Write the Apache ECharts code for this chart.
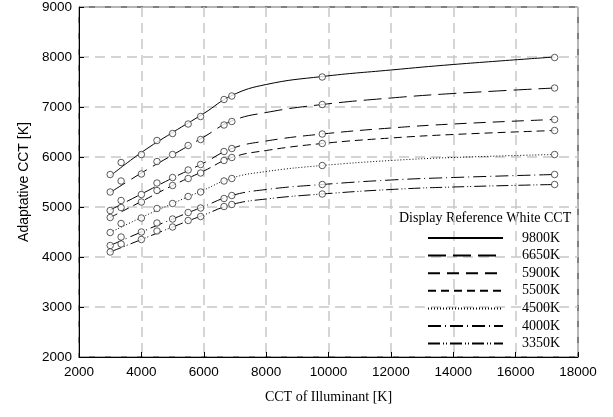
<!DOCTYPE html>
<html>
<head>
<meta charset="utf-8">
<script src="https://cdn.jsdelivr.net/npm/echarts@6/dist/echarts.min.js"></script>
<style>
  html, body { margin: 0; padding: 0; background: #fff; }
  #chart { width: 613px; height: 417px; }
</style>
</head>
<body>
<div id="chart"></div>
<script>
// illuminant CCT of the measured points
const illuminantCCT = [3000, 3350, 4000, 4500, 5000, 5500, 5900, 6650, 6900, 9800, 17250];

// display reference white names
const displayWhites = ['9800K', '6650K', '5900K', '5500K', '4500K', '4000K', '3350K'];

// measured adaptive CCT (markers), one array per display white
const adaptive9800 = [5650, 5890, 6050, 6330, 6470, 6660, 6810, 7150, 7220, 7600, 7990];
const adaptive6650 = [5300, 5520, 5660, 5910, 6050, 6230, 6350, 6640, 6710, 7050, 7380];
const adaptive5900 = [4930, 5130, 5250, 5480, 5590, 5740, 5850, 6110, 6170, 6460, 6750];
const adaptive5500 = [4790, 4990, 5100, 5330, 5430, 5570, 5680, 5930, 5990, 6270, 6530];
const adaptive4500 = [4490, 4670, 4780, 4970, 5070, 5210, 5300, 5520, 5570, 5830, 6050];
const adaptive4000 = [4230, 4400, 4500, 4680, 4760, 4890, 4980, 5170, 5230, 5450, 5650];
const adaptive3350 = [4100, 4260, 4350, 4520, 4600, 4730, 4810, 5010, 5050, 5260, 5450];

// fitted curves at these illuminant CCTs
const fitCCT = [3000, 4000, 5000, 6000, 6900, 8000, 9800, 12000, 14000, 17250];
const fit9800 = [5620, 6090, 6490, 6870, 7230, 7450, 7610, 7740, 7850, 8000];
const fit6650 = [5290, 5680, 6040, 6400, 6720, 6890, 7050, 7180, 7270, 7380];
const fit5900 = [4940, 5260, 5580, 5880, 6170, 6320, 6460, 6580, 6660, 6750];
const fit5500 = [4790, 5110, 5430, 5720, 5990, 6130, 6270, 6380, 6450, 6530];
const fit4500 = [4490, 4790, 5070, 5340, 5580, 5710, 5830, 5930, 5990, 6050];
const fit4000 = [4230, 4500, 4760, 5010, 5230, 5350, 5450, 5540, 5590, 5650];
const fit3350 = [4100, 4350, 4600, 4840, 5050, 5160, 5260, 5350, 5400, 5450];

const measured = [adaptive9800, adaptive6650, adaptive5900, adaptive5500, adaptive4500, adaptive4000, adaptive3350];
const fitted = [fit9800, fit6650, fit5900, fit5500, fit4500, fit4000, fit3350];

// dash pattern per curve
const dashes = ['solid', [18, 7], [12, 7], [8, 5], [1, 2], [13, 4, 1, 4], [12, 3, 1, 2, 1, 3]];

const chart = echarts.init(document.getElementById('chart'));

const sansFont = '"Liberation Sans", Arial, sans-serif';
const serifFont = '"Liberation Serif", "Times New Roman", serif';

const series = [];
fitted.forEach(function (vals, i) {
  // the fitted curve
  series.push({
    name: displayWhites[i],
    type: 'line',
    data: fitCCT.map(function (x, j) { return [x, vals[j]]; }),
    symbol: 'none',
    smooth: 0.45,
    itemStyle: { color: '#000' },
    lineStyle: { color: '#000', width: 1, type: dashes[i] },
    z: 2
  });
  // the measured points
  series.push({
    name: 'pts' + displayWhites[i],
    type: 'scatter',
    data: illuminantCCT.map(function (x, j) { return [x, measured[i][j]]; }),
    symbol: 'circle',
    symbolSize: 6.5,
    itemStyle: { color: '#fff', borderColor: '#333', borderWidth: 1 },
    z: 3
  });
});

const plainNum = function (v) { return String(v); };

const option = {
  animation: false,
  backgroundColor: '#fff',
  grid: {
    left: 79, right: 35, top: 7, bottom: 60,
    show: true, borderColor: '#000', borderWidth: 1
  },
  xAxis: {
    type: 'value',
    min: 2000, max: 18000, interval: 2000,
    name: 'CCT of Illuminant [K]',
    nameLocation: 'middle',
    nameGap: 33,
    nameTextStyle: { fontFamily: serifFont, fontSize: 14, color: '#000' },
    axisLine: { lineStyle: { color: '#000', width: 1 } },
    axisTick: { inside: true, length: 5, lineStyle: { color: '#000' } },
    axisLabel: { fontFamily: sansFont, fontSize: 13.5, color: '#000', margin: 8, formatter: plainNum },
    splitLine: { show: true, lineStyle: { color: '#c8c8c8', width: 1.5, type: [10, 6] } }
  },
  yAxis: {
    type: 'value',
    min: 2000, max: 9000, interval: 1000,
    name: 'Adaptative CCT [K]',
    nameLocation: 'middle',
    nameGap: 47,
    nameTextStyle: { fontFamily: sansFont, fontSize: 14, color: '#000' },
    axisLine: { lineStyle: { color: '#000', width: 1 } },
    axisTick: { inside: true, length: 5, lineStyle: { color: '#000' } },
    axisLabel: { fontFamily: sansFont, fontSize: 13.5, color: '#000', margin: 7, formatter: plainNum },
    splitLine: { show: true, lineStyle: { color: '#c8c8c8', width: 1.5, type: [10, 6] } }
  },
  legend: {
    data: displayWhites,
    orient: 'vertical',
    left: 422,
    top: 226,
    itemWidth: 75,
    itemHeight: 14,
    itemGap: 3.6,
    itemStyle: { opacity: 0 },
    textStyle: { fontFamily: serifFont, fontSize: 14, color: '#000', padding: [0, 0, 0, 14], lineHeight: 14 }
  },
  graphic: [{
    type: 'text',
    left: 399,
    top: 211,
    style: { text: 'Display Reference White CCT', font: '14px ' + serifFont, fill: '#000' }
  }],
  series: series
};

chart.setOption(option);
</script>
</body>
</html>
